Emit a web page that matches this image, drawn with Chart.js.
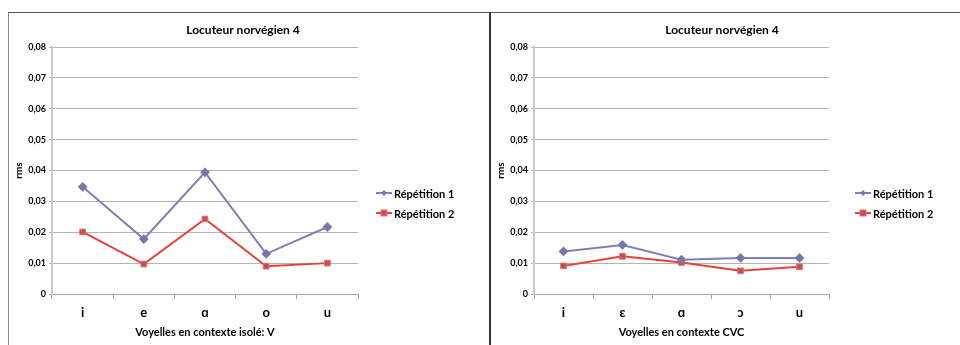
<!DOCTYPE html>
<html lang="fr">
<head>
  <meta charset="UTF-8">
  <title>Locuteur norvégien 4</title>
  <script src="https://cdn.jsdelivr.net/npm/chart.js"></script>
  <style>
    html, body { margin: 0; padding: 0; background: #fff; }
    body { width: 960px; height: 345px; position: relative; overflow: hidden; font-family: Lato, "Open Sans", sans-serif; }
    .panneau { position: absolute; top: 12px; height: 333px; border-top: 1px solid #555; box-sizing: border-box; }
    #p1 { left: 8px; width: 481px; border-left: 1px solid #8a8a8a; }
    #p2 { left: 489px; width: 471px; border-left: 2px solid #333; }
    canvas { position: absolute; left: 0; top: -1px; }
  </style>
</head>
<body>
  <div class="panneau" id="p1"><canvas id="graphIsole" width="480" height="333"></canvas></div>
  <div class="panneau" id="p2"><canvas id="graphCVC" width="469" height="333"></canvas></div>

  <script>
    const titre = 'Locuteur norvégien 4';
    const seriesNoms = ['Répétition 1', 'Répétition 2'];

    const voyellesIsole = ['i', 'e', 'ɑ', 'o', 'u'];
    const isoleRep1 = [0.0347, 0.0178, 0.0394, 0.0130, 0.0217];
    const isoleRep2 = [0.0201, 0.0097, 0.0243, 0.0090, 0.0100];

    const voyellesCVC = ['i', 'ɛ', 'ɑ', 'ɔ', 'u'];
    const cvcRep1 = [0.0138, 0.0159, 0.0111, 0.0117, 0.0117];
    const cvcRep2 = [0.0091, 0.0122, 0.0102, 0.0075, 0.0088];

    const yMin = 0, yMax = 0.08, yPas = 0.01;

    function formatTick(v) {
      if (Math.abs(v) < 1e-9) return '0';
      return v.toFixed(2).replace('.', ',');
    }

    // titre + légende dessinés à la main pour les placer comme dans l'original
    const decor = {
      id: 'decor',
      afterDraw(chart, args, opts) {
        const ctx = chart.ctx;
        ctx.save();
        ctx.fillStyle = '#000';
        ctx.font = 'bold 12px Lato';
        ctx.textAlign = 'center';
        ctx.textBaseline = 'middle';
        ctx.fillText(titre, opts.titreX, 18);

        ctx.font = 'bold 11px Lato';
        ctx.textAlign = 'left';
        chart.data.datasets.forEach((ds, i) => {
          const y = 181 + i * 20;
          const x0 = opts.legX;
          ctx.strokeStyle = ds.borderColor;
          ctx.lineWidth = 2;
          ctx.beginPath();
          ctx.moveTo(x0, y);
          ctx.lineTo(x0 + 16, y);
          ctx.stroke();
          ctx.fillStyle = ds.pointBackgroundColor;
          ctx.strokeStyle = ds.pointBorderColor;
          ctx.lineWidth = 1;
          if (ds.pointStyle === 'rect') {
            ctx.fillRect(x0 + 5, y - 3, 6, 6);
            ctx.strokeRect(x0 + 5, y - 3, 6, 6);
          } else {
            ctx.beginPath();
            ctx.moveTo(x0 + 8, y - 3);
            ctx.lineTo(x0 + 11, y);
            ctx.lineTo(x0 + 8, y + 3);
            ctx.lineTo(x0 + 5, y);
            ctx.closePath();
            ctx.fill();
          }
          ctx.fillStyle = '#000';
          ctx.fillText(ds.label, x0 + 18, y + 1);
        });
        ctx.restore();
      }
    };

    function creerGraphique(id, voyelles, rep1, rep2, titreX, legX, titreAxeX) {
      new Chart(document.getElementById(id), {
        type: 'line',
        data: {
          labels: voyelles,
          datasets: [{
            label: seriesNoms[0],
            data: rep1,
            borderColor: '#8080b6',
            borderWidth: 2,
            pointStyle: 'rectRot',
            pointRadius: 3.5,
            pointBackgroundColor: '#7777ad',
            pointBorderColor: '#7777ad',
            tension: 0
          }, {
            label: seriesNoms[1],
            data: rep2,
            borderColor: '#e8403d',
            borderWidth: 2,
            pointStyle: 'rect',
            pointRadius: 4,
            pointBackgroundColor: '#b85457',
            pointBorderColor: '#ec6a6a',
            pointBorderWidth: 1,
            tension: 0
          }]
        },
        options: {
          responsive: false,
          animation: false,
          devicePixelRatio: 1,
          layout: { padding: { top: 35, right: 131, bottom: 0, left: 0 } },
          plugins: {
            legend: { display: false },
            title: { display: false },
            tooltip: { enabled: false },
            decor: { titreX: titreX, legX: legX }
          },
          scales: {
            x: {
              offset: true,
              grid: { drawOnChartArea: false, drawTicks: true, tickLength: 5, color: '#a0a0a0', offset: true },
              border: { color: '#a8a8a8', width: 1 },
              ticks: { color: '#000', font: { family: 'Lato', size: 13, weight: 'bold' }, padding: 6, maxRotation: 0 },
              title: { display: true, text: titreAxeX, color: '#000', font: { family: 'Lato', size: 11, weight: 'bold' }, padding: { top: 0, bottom: 6 } },
              afterFit(scale) { scale.height = 51; }
            },
            y: {
              min: yMin,
              max: yMax,
              ticks: { stepSize: yPas, callback: formatTick, color: '#000', font: { family: 'Lato', size: 9, weight: 'bold' }, padding: 3 },
              grid: { color: '#b4b4b4', lineWidth: 1, tickLength: 3 },
              border: { color: '#cbcbcb', width: 2 },
              title: { display: true, text: 'rms', color: '#000', font: { family: 'Lato', size: 10, weight: 'bold' }, padding: { top: 4, bottom: 0 } },
              afterFit(scale) { scale.width = 43; }
            }
          }
        },
        plugins: [decor]
      });
    }

    creerGraphique('graphIsole', voyellesIsole, isoleRep1, isoleRep2, 234, 367, 'Voyelles en contexte isolé: V');
    creerGraphique('graphCVC', voyellesCVC, cvcRep1, cvcRep2, 231, 364, 'Voyelles en contexte CVC');
  </script>
</body>
</html>
